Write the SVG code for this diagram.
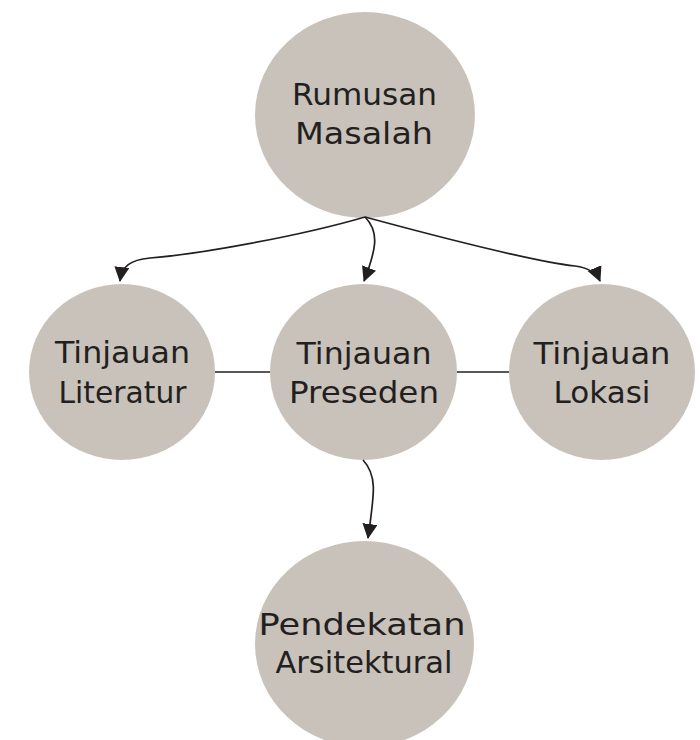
<svg xmlns="http://www.w3.org/2000/svg" width="700" height="740" viewBox="0 0 700 740">
<style>
.node ellipse{fill:#C9C2BA;}
.node text{font-family:"DejaVu Sans","Liberation Sans",sans-serif;font-size:30px;fill:#231F20;text-anchor:middle;}
.conn path{fill:none;stroke:#231F20;stroke-width:1.7;}
</style>
<defs>
<marker id="arr" markerUnits="userSpaceOnUse" markerWidth="16" markerHeight="16" refX="14" refY="7.5" orient="auto">
<path d="M0,0 L15,7.5 L0,15 z" fill="#231F20"/>
</marker>
</defs>
<rect width="700" height="740" fill="#FFFFFF"/>
<g id="rumusan" class="node">
<ellipse cx="365" cy="115" rx="110" ry="103"/>
<text x="364.5" y="105" textLength="145" lengthAdjust="spacingAndGlyphs">Rumusan</text>
<text x="364" y="144" textLength="138" lengthAdjust="spacingAndGlyphs">Masalah</text>
</g>
<g id="literatur" class="node">
<ellipse cx="122" cy="372" rx="93" ry="88"/>
<text x="122.5" y="363" textLength="135" lengthAdjust="spacingAndGlyphs">Tinjauan</text>
<text x="122.5" y="403" textLength="128" lengthAdjust="spacingAndGlyphs">Literatur</text>
</g>
<g id="preseden" class="node">
<ellipse cx="363.5" cy="372" rx="93.5" ry="88"/>
<text x="364" y="364" textLength="135" lengthAdjust="spacingAndGlyphs">Tinjauan</text>
<text x="364" y="403" textLength="150" lengthAdjust="spacingAndGlyphs">Preseden</text>
</g>
<g id="lokasi" class="node">
<ellipse cx="602" cy="372" rx="93" ry="88"/>
<text x="602" y="364" textLength="137" lengthAdjust="spacingAndGlyphs">Tinjauan</text>
<text x="602" y="403" textLength="97" lengthAdjust="spacingAndGlyphs">Lokasi</text>
</g>
<g id="pendekatan" class="node">
<ellipse cx="364.5" cy="644" rx="109.5" ry="103"/>
<text x="362" y="635" textLength="207" lengthAdjust="spacingAndGlyphs">Pendekatan</text>
<text x="364" y="673" textLength="177" lengthAdjust="spacingAndGlyphs">Arsitektural</text>
</g>
<g id="connectors" class="conn">
<path d="M365,217 C300,236 200,254 150,258 C130,260 122,266 120,281" marker-end="url(#arr)"/>
<path d="M365,217 C380,232 376,250 364,281" marker-end="url(#arr)"/>
<path d="M365,217 C450,240 540,262 575,266 C590,268 597,274 600,281" marker-end="url(#arr)"/>
<path d="M363,460 C378,476 374,495 368,538" marker-end="url(#arr)"/>
<path d="M215,372 L270,372"/>
<path d="M457,372 L509,372"/>
</g>
</svg>
